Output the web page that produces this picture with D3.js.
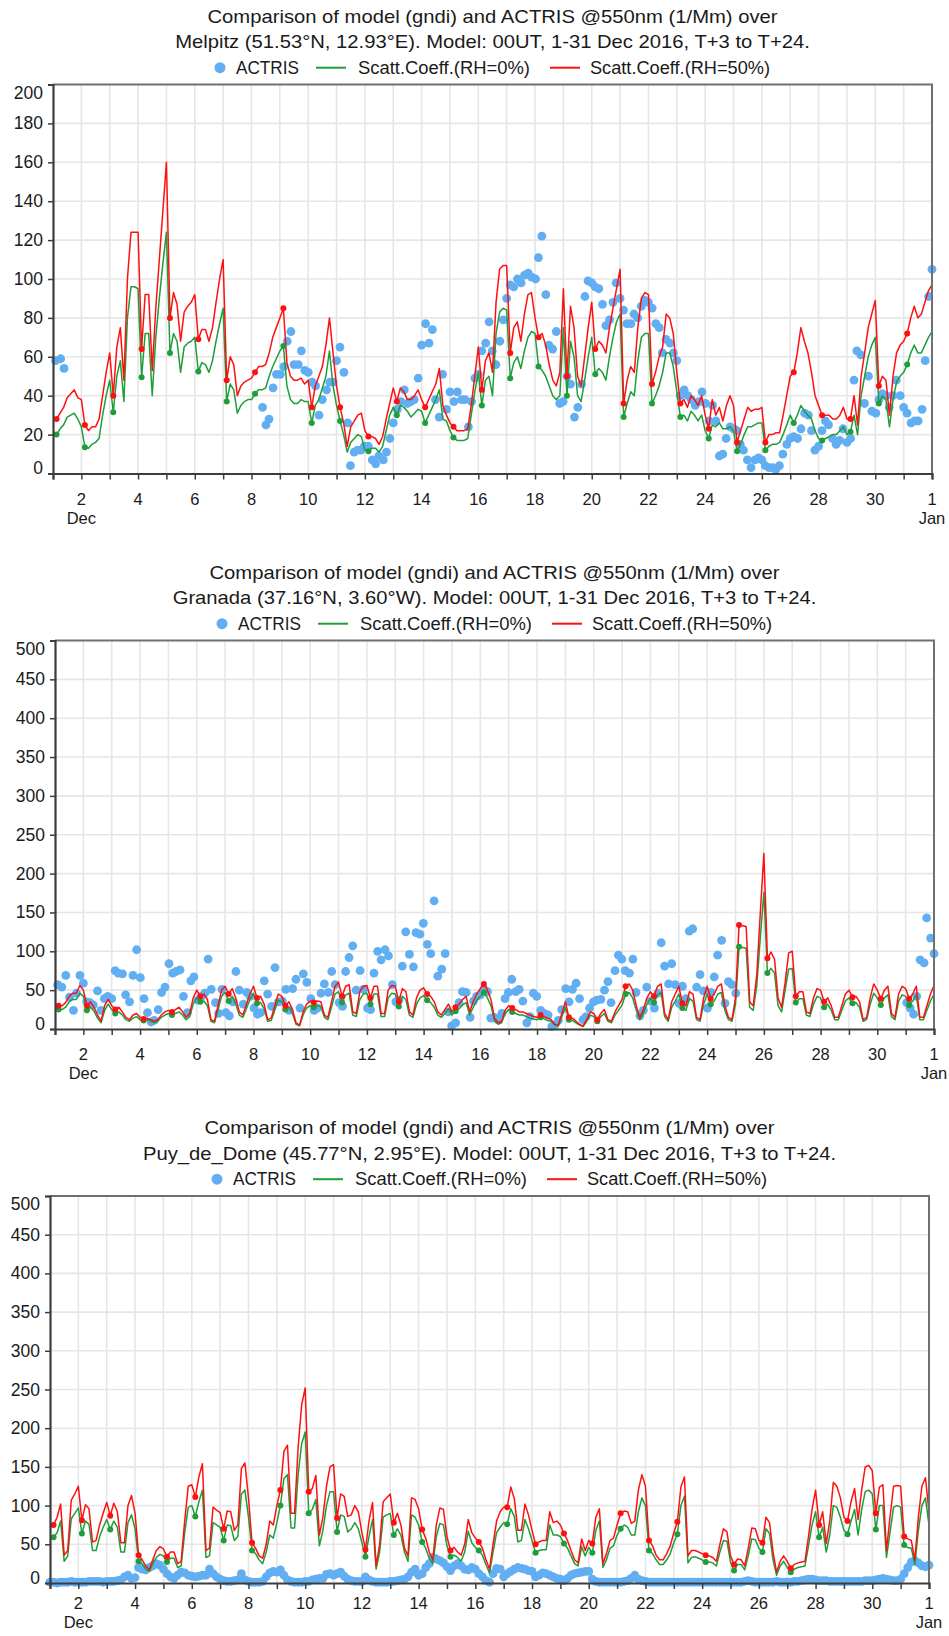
<!DOCTYPE html>
<html><head><meta charset="utf-8">
<script src="https://cdn.jsdelivr.net/npm/d3@7"></script>
<style>
body{margin:0;background:#fff}
svg{display:block}
text{font-family:"Liberation Sans",Arial,Helvetica,sans-serif;fill:#1a1a1a}
</style>
</head><body>
<svg id="c" width="949" height="1636"></svg>
<script>
// ---------------- DATA ----------------
const titleLine1 = "Comparison of model (gndi) and ACTRIS @550nm (1/Mm) over";
const stationTitles = [
  "Melpitz (51.53°N, 12.93°E). Model: 00UT, 1-31 Dec 2016, T+3 to T+24.",
  "Granada (37.16°N, 3.60°W). Model: 00UT, 1-31 Dec 2016, T+3 to T+24.",
  "Puy_de_Dome (45.77°N, 2.95°E). Model: 00UT, 1-31 Dec 2016, T+3 to T+24."
];
const legendLabels = ["ACTRIS", "Scatt.Coeff.(RH=0%)", "Scatt.Coeff.(RH=50%)"];
const xTickDays = [2,4,6,8,10,12,14,16,18,20,22,24,26,28,30,32];
const xTickLabels = ["2","4","6","8","10","12","14","16","18","20","22","24","26","28","30","1"];
const monthLabels = [[2,"Dec"],[32,"Jan"]];
const yTicksMel = [0,20,40,60,80,100,120,140,160,180,200];
const yTicks500 = [0,50,100,150,200,250,300,350,400,450,500];

// model values: 8 steps per day (T+3 ... T+24), Dec 1 .. Dec 31
const melRed = [
28,31,34,39,41,43,39,38, 25,22,24,24,28,40,52,62, 40,65,75,48,100,124,124,124, 64,92,92,53,85,110,135,160,
80,93,87,68,83,86,88,92, 69,74,74,68,75,88,100,110, 48,60,56,40,45,47,48,49, 52,55,55,56,62,70,75,80,
85,57,50,48,48,49,46,48, 34,45,50,55,66,80,62,45, 34,26,14,24,27,30,31,22, 19,19,18,15,19,28,36,44,
37,44,42,38,38,40,43,38, 34,38,42,46,54,35,30,26, 24,22,22,22,23,35,50,65, 43,58,62,52,88,105,107,107,
62,75,78,68,82,92,93,80, 70,72,66,56,48,45,52,95, 50,86,75,50,45,60,75,88, 64,68,66,62,75,85,95,105,
36,48,55,52,75,90,93,92, 46,52,60,65,82,80,72,52, 36,38,34,40,38,35,40,30, 23,38,30,34,27,35,40,35,
16,22,28,34,32,33,33,34, 16,20,20,21,21,30,40,50, 52,62,75,68,62,52,40,35, 30,30,30,28,28,30,34,28,
28,40,25,50,62,75,82,89, 45,50,48,30,50,62,66,68, 72,80,86,80,82,88,94,97];
const melGreen = [
20,23,25,29,30,31,28,24, 13.5,13,15,16,18,30,40,48, 31.5,50,58,37,80,96,96,95, 49.5,72,72,40,70,90,108,124,
62,72,68,52,65,67,68,70, 52.5,57,56,52,58,68,77,85, 37,46,43,31,35,37,38,38, 41,43,43,44,50,55,59,63,
65.5,45,38,36,36,38,37,37, 26,35,38,44,50,63,45,35, 27,20,11,16,18,20,19,12, 11.5,13,13,11,14,22,30,34,
30,35,34,32,29,31,33,32, 26,30,34,38,43,28,27,22, 18.5,17,17,17,18,30,42,52, 35,48,50,40,72,83,85,84,
49,57,60,54,63,70,73,72, 55,53,50,45,40,38,40,75, 40,68,60,40,37,48,60,70, 51,54,52,48,60,70,78,82,
29,36,42,40,58,70,72,72, 36,40,45,52,62,62,55,42, 29,30,27,32,30,27,30,22, 18,25,24,26,23,23,24,22,
11.5,15,20,24,24,25,26,26, 12,14,15,15,16,20,25,30, 26,30,35,32,30,28,22,18, 17,18,19,20,20,22,24,20,
21.5,30,20,40,50,60,66,70, 36,40,38,24,38,47,50,52, 56,62,66,62,62,66,70,73];
const melObs = [
[1.09,58],[1.27,59],[1.39,54],
[8.39,34],[8.51,25],[8.62,28],[8.76,44],[8.88,51],[9.02,51],[9.14,55],[9.26,68],[9.39,73],[9.5,56],[9.65,56],[9.76,63],[9.88,53],[10.0,52],[10.14,47],[10.26,45],[10.38,30],[10.5,38],[10.65,43],[10.76,47],[10.88,47],[11.0,58],[11.12,65],[11.26,52],[11.39,26],[11.49,4],[11.62,11],[11.74,12],[11.86,12],[11.98,14],[12.12,14],[12.26,7],[12.38,5],[12.49,9],[12.65,7],[12.76,11],[12.88,18],[13.0,26],[13.14,33],[13.27,37],[13.39,43],[13.5,36],[13.62,37],[13.74,38],[13.88,49],[14.0,66],[14.14,77],[14.26,67],[14.38,74],[14.49,38],[14.62,29],[14.74,51],[14.88,33],[15.0,42],[15.14,37],[15.26,42],[15.41,38],[15.53,38],[15.65,24],[15.76,37],[15.88,49],[16.0,51],[16.12,63],[16.26,67],[16.38,78],[16.49,63],[16.62,56],[16.76,68],[16.88,79],[17.0,90],[17.12,97],[17.25,96],[17.38,100],[17.51,98],[17.63,102],[17.76,103],[17.88,101],[18.02,100],[18.12,111],[18.24,122],[18.38,92],[18.49,66],[18.62,64],[18.75,73],[18.87,36],[18.99,37],[19.13,50],[19.25,46],[19.39,29],[19.51,34],[19.64,46],[19.76,91],[19.87,99],[20.0,98],[20.12,96],[20.25,95],[20.38,87],[20.5,76],[20.63,79],[20.75,88],[20.86,98],[21.0,90],[21.12,84],[21.24,77],[21.38,77],[21.49,82],[21.62,80],[21.75,86],[21.87,89],[22.0,88],[22.13,85],[22.26,77],[22.38,75],[22.49,62],[22.62,69],[22.76,67],[22.88,62],[23.0,58],[23.12,40],[23.26,43],[23.39,40],[23.51,38],[23.65,35],[23.78,37],[23.89,42],[24.01,36],[24.14,27],[24.26,35],[24.38,27],[24.5,9],[24.62,10],[24.74,18],[24.88,24],[25.0,23],[25.12,22],[25.24,15],[25.35,12],[25.49,7],[25.62,3],[25.76,7],[25.88,8],[26.0,7],[26.12,4],[26.25,3],[26.38,3],[26.49,2],[26.62,4],[26.74,10],[26.88,15],[27.0,18],[27.12,19],[27.26,18],[27.38,23],[27.51,31],[27.64,30],[27.75,22],[27.87,12],[28.0,14],[28.12,22],[28.24,27],[28.35,25],[28.49,18],[28.62,15],[28.74,17],[28.86,23],[29.0,16],[29.13,18],[29.25,48],[29.35,63],[29.49,61],[29.62,36],[29.76,50],[29.88,32],[30.02,31],[30.13,38],[30.25,41],[30.38,40],[30.49,34],[30.62,40],[30.74,48],[30.88,40],[31.0,34],[31.12,31],[31.26,26],[31.39,27],[31.51,27],[31.65,33],[31.76,58],[31.88,91],[32.0,105]];

const graRed = [
30,30,34,42,46,46,56,50, 30,35,28,18,10,30,38,30, 25,28,22,15,12,18,20,15, 13,14,12,10,12,18,22,24,
22,25,28,22,15,20,40,50, 42,45,38,12,10,30,50,55, 45,52,40,22,18,32,45,55, 40,42,32,12,14,30,45,42,
30,35,25,8,5,22,32,36, 34,36,35,18,15,35,55,60, 42,55,57,22,20,48,55,56, 40,55,55,20,20,50,56,55,
35,52,48,22,18,40,50,53, 45,42,35,22,18,25,32,22, 28,32,38,42,22,35,45,52, 58,50,38,14,8,10,24,30,
27,25,22,22,20,18,16,15, 18,16,14,12,6,5,20,35, 15,14,10,6,4,12,22,20, 12,20,25,12,10,22,30,38,
55,58,50,30,15,25,40,48, 42,55,58,20,12,35,45,55, 33,30,48,45,15,12,40,55, 39,45,55,58,30,15,12,40,
134,133,132,35,30,70,150,226, 91,99,90,40,28,60,98,100, 42,48,48,22,20,40,52,50, 35,40,30,15,15,30,45,50,
41,42,35,12,15,40,58,50, 39,50,55,20,15,45,55,52, 39,45,55,15,15,30,45,56];
const graGreen = [
25,25,28,35,38,38,46,42, 24,28,23,14,8,24,32,25, 20,22,18,12,10,14,16,12, 11,12,10,8,10,15,18,20,
18,20,22,18,12,16,32,40, 35,36,30,10,8,25,42,47, 36,42,32,18,15,26,38,46, 33,34,26,10,11,24,37,35,
25,28,20,6,4,18,27,30, 28,30,29,15,12,28,45,48, 34,44,46,18,16,38,45,46, 32,45,45,16,16,40,46,45,
29,42,38,18,15,32,40,43, 37,34,28,18,15,20,26,18, 23,26,31,34,18,28,37,42, 47,40,30,11,6,8,20,25,
22,20,18,18,16,14,13,12, 15,13,11,10,5,4,16,28, 12,11,8,5,3,10,18,16, 10,16,20,10,8,18,24,31,
45,47,40,24,12,20,32,39, 34,44,47,16,10,28,36,45, 27,24,39,36,12,10,32,45, 32,36,45,47,24,12,10,32,
106,105,104,28,24,56,118,176, 72,78,72,30,22,50,77,78, 34,39,39,18,16,32,42,40, 28,32,24,12,12,24,36,40,
33,34,28,10,12,32,46,40, 31,40,44,16,12,36,44,42, 31,36,44,12,12,24,36,45];
const graObs = [
[1.09,57],[1.24,54],[1.38,69],[1.51,41],[1.65,24],[1.76,46],[1.88,69],[2.0,59],[2.12,35],[2.23,34],[2.35,31],[2.5,49],[2.62,24],[2.74,39],[2.86,42],[3.0,39],[3.12,75],[3.23,72],[3.38,71],[3.49,44],[3.63,35],[3.75,69],[3.88,102],[4.01,66],[4.14,39],[4.26,21],[4.39,9],[4.5,11],[4.64,25],[4.76,47],[4.88,54],[5.02,84],[5.15,72],[5.27,74],[5.41,76],[5.53,42],[5.67,21],[5.79,62],[5.9,67],[6.04,37],[6.16,42],[6.28,46],[6.4,90],[6.51,51],[6.66,34],[6.77,20],[6.89,51],[7.03,21],[7.15,17],[7.27,35],[7.38,74],[7.5,50],[7.64,32],[7.76,47],[7.88,42],[8.02,27],[8.14,19],[8.25,21],[8.38,62],[8.5,45],[8.64,29],[8.76,79],[8.88,35],[9.02,36],[9.14,51],[9.25,24],[9.38,52],[9.5,64],[9.64,27],[9.76,71],[9.88,60],[10.02,39],[10.14,24],[10.25,27],[10.38,46],[10.5,58],[10.64,47],[10.76,74],[10.88,57],[11.02,34],[11.14,29],[11.25,74],[11.37,92],[11.5,107],[11.62,50],[11.76,75],[11.88,51],[12.02,27],[12.13,25],[12.25,72],[12.38,100],[12.5,89],[12.64,102],[12.76,94],[12.9,57],[13.02,35],[13.13,37],[13.25,81],[13.37,125],[13.5,96],[13.64,80],[13.73,124],[13.87,122],[13.99,136],[14.13,109],[14.25,97],[14.37,165],[14.5,68],[14.64,77],[14.76,97],[14.87,22],[14.99,4],[15.13,8],[15.25,34],[15.37,48],[15.5,47],[15.64,15],[15.76,36],[15.87,42],
[16.0,44],[16.13,51],[16.25,48],[16.37,14],[16.49,15],[16.61,12],[16.76,20],[16.87,39],[16.99,47],[17.11,64],[17.25,48],[17.37,51],[17.5,36],[17.64,8],[17.75,16],[17.87,46],[17.99,42],[18.13,24],[18.25,20],[18.39,18],[18.52,3],[18.63,5],[18.75,11],[18.87,25],[19.01,52],[19.13,35],[19.25,51],[19.38,59],[19.5,39],[19.62,12],[19.73,16],[19.85,27],[19.99,35],[20.11,37],[20.25,38],[20.38,50],[20.5,61],[20.61,34],[20.75,75],[20.87,95],[20.99,90],[21.11,75],[21.26,72],[21.38,90],[21.49,47],[21.63,17],[21.75,24],[21.87,54],[22.01,36],[22.14,27],[22.26,46],[22.38,111],[22.5,81],[22.64,58],[22.75,84],[22.87,57],[23.01,33],[23.13,55],[23.25,39],[23.37,126],[23.49,129],[23.63,54],[23.75,70],[23.87,49],[24.01,27],[24.13,47],[24.25,67],[24.37,95],[24.51,114],[24.63,33],[24.75,61],[24.87,57],[25.01,46],
[31.04,34],[31.16,27],[31.28,19],[31.39,42],[31.51,89],[31.65,85],[31.74,143],[31.88,117],[32.0,97]];

const puyRed = [
75,85,102,36,42,107,115,125, 81,101,96,53,55,75,90,104, 87,103,92,52,52,100,113,90, 36,30,22,17,30,42,47,44,
34,40,40,25,28,80,125,127, 111,137,154,42,45,98,94,91, 70,93,92,68,75,148,155,110, 52,45,35,32,50,80,75,100,
120,170,178,90,90,175,230,252, 118,122,139,62,85,125,150,153, 84,115,112,86,88,100,92,65, 43,80,104,22,50,105,110,115,
78,90,75,45,35,110,108,96, 69,58,40,30,75,97,95,60, 42,46,40,36,50,82,65,58, 53,45,30,18,50,80,92,98,
98,124,109,68,68,102,88,68, 50,53,55,55,92,78,80,75, 64,55,42,30,26,57,42,55, 51,85,96,25,38,55,58,75,
90,93,92,77,80,120,140,125, 55,48,36,30,30,38,48,65, 79,124,137,35,42,42,40,38, 36,35,33,28,50,70,66,35,
24,31,30,22,45,71,70,55, 52,85,78,40,14,28,35,28, 19,24,26,27,28,60,95,120, 75,92,51,80,130,125,110,85,
80,105,122,82,120,150,152,145, 90,124,127,42,85,125,126,125, 60,57,55,30,85,125,136,92];
const puyGreen = [
59,65,80,28,35,83,90,97, 64,80,76,42,42,60,72,82, 69,80,72,40,40,78,88,70, 28,25,18,15,25,33,37,35,
27,32,32,20,22,65,98,100, 86,105,120,33,35,78,75,72, 55,75,74,55,60,115,120,85, 42,38,30,25,40,62,58,78,
100,135,140,71,71,140,180,195, 90,95,108,48,68,100,118,118, 66,88,86,66,70,78,70,52, 34,60,82,18,40,85,88,90,
62,70,62,40,28,88,85,75, 53,45,32,25,60,77,75,48, 34,36,33,28,40,67,52,46, 42,36,24,13,40,65,72,78,
76,96,86,53,55,82,70,55, 39,42,43,43,75,62,62,60, 51,45,35,25,22,47,35,46, 39,68,80,20,30,45,48,62,
70,75,72,62,62,92,110,100, 42,38,30,24,24,30,38,52, 63,100,112,26,33,34,32,30, 27,27,26,22,40,55,54,27,
16,24,24,17,35,57,56,45, 40,70,64,30,10,22,28,20, 14,18,20,21,22,48,75,92, 59,72,40,62,100,98,85,68,
63,80,95,62,95,118,120,115, 69,100,100,33,65,98,100,98, 49,46,45,24,68,100,110,75];
// ACTRIS at Puy de Dome, 3-hourly from Dec 1 00UT to Jan 1 00UT
const puyObsVal = [
1,1,0,1,1,1,2,1, 1,1,1,2,2,2,2,1, 2,2,2,3,4,8,10,6, 7,20,18,17,20,22,25,23,
18,12,8,6,10,14,13,10, 9,8,9,10,10,18,12,8, 5,3,2,2,3,4,12,4, 2,1,1,1,2,8,13,15,
14,17,10,4,2,1,1,1, 2,2,4,5,6,6,11,12, 10,12,14,9,5,3,2,2, 2,8,4,2,1,1,1,1,
2,2,3,4,5,8,14,18, 10,12,20,25,33,31,29,26, 21,16,22,25,22,18,17,20, 18,12,8,3,1,12,19,18,
8,12,15,18,20,19,18,16, 15,8,10,13,12,10,8,6, 5,3,6,10,12,13,14,15, 15,5,2,1,1,1,1,1,
1,1,2,3,6,10,5,3, 2,1,1,1,1,1,1,1, 1,1,1,1,1,1,1,1, 1,1,1,1,1,1,1,1,
1,1,1,1,2,3,2,1, 1,1,1,1,1,2,1,1, 1,1,2,2,3,4,5,5, 4,3,3,3,2,2,2,2,
2,2,2,2,2,2,3,3, 3,4,5,6,5,4,3,3, 5,12,20,27,29,26,22,21, 23];

// ---------------- DRAWING ----------------
const svg = d3.select("#c");
const C = {blue:"#62aef2", green:"#1f9d3a", red:"#ff1010", grid:"#e6e6e6", axis:"#3c3c3c", frame:"#707070"};
const modelTime = (i) => 1 + Math.floor(i/8) + ((i%8)+1)/8;
const toSeries = arr => arr.map((v,i)=>[modelTime(i), v]);
const puyObs = puyObsVal.map((v,i)=>[1 + i/8, v]);

const panels = [
  {title: stationTitles[0], box:{l:53, r:932, t:84.5, b:473.5}, yMax:200, yTicks:yTicksMel, red:melRed, green:melGreen, obs:melObs},
  {title: stationTitles[1], box:{l:55, r:934, t:640.5, b:1029}, yMax:500, yTicks:yTicks500, red:graRed, green:graGreen, obs:graObs},
  {title: stationTitles[2], box:{l:50, r:929, t:1196, b:1583}, yMax:500, yTicks:yTicks500, red:puyRed, green:puyGreen, obs:puyObs}
];

let stretch = null;
panels.forEach(p => {
  const {l,r,t,b} = p.box;
  const x = d3.scaleLinear().domain([1,32]).range([l,r]);
  const y = d3.scaleLinear().domain([0,p.yMax]).range([b,t]);
  const g = svg.append("g");
  const cx = (l+r)/2;

  // titles
  const t1 = g.append("text").attr("x",cx).attr("y",t-68.5).attr("text-anchor","middle")
    .attr("dominant-baseline","central").attr("font-size",19).text(titleLine1);
  const t2 = g.append("text").attr("x",cx).attr("y",t-42.8).attr("text-anchor","middle")
    .attr("dominant-baseline","central").attr("font-size",19).text(p.title);
  if (stretch === null) stretch = 570 / t1.node().getComputedTextLength();
  [t1,t2].forEach(tt => {
    const w = tt.node().getComputedTextLength();
    tt.attr("textLength", w*stretch).attr("lengthAdjust","spacingAndGlyphs");
  });

  // legend
  const ly = t - 16.8;
  g.append("circle").attr("cx",cx-272.5).attr("cy",ly).attr("r",5.5).attr("fill",C.blue);
  g.append("text").attr("x",cx-256.5).attr("y",ly).attr("dominant-baseline","central").attr("font-size",17.5)
    .attr("textLength",63).attr("lengthAdjust","spacingAndGlyphs").text(legendLabels[0]);
  g.append("line").attr("x1",cx-176.5).attr("x2",cx-146.5).attr("y1",ly).attr("y2",ly).attr("stroke",C.green).attr("stroke-width",2);
  g.append("text").attr("x",cx-134.5).attr("y",ly).attr("dominant-baseline","central").attr("font-size",17.5)
    .attr("textLength",172).attr("lengthAdjust","spacingAndGlyphs").text(legendLabels[1]);
  g.append("line").attr("x1",cx+57.5).attr("x2",cx+87.5).attr("y1",ly).attr("y2",ly).attr("stroke",C.red).attr("stroke-width",2);
  g.append("text").attr("x",cx+97.5).attr("y",ly).attr("dominant-baseline","central").attr("font-size",17.5)
    .attr("textLength",180).attr("lengthAdjust","spacingAndGlyphs").text(legendLabels[2]);

  // grid
  g.selectAll(null).data(d3.range(2,32)).join("line")
    .attr("x1",d=>x(d)).attr("x2",d=>x(d)).attr("y1",t).attr("y2",b)
    .attr("stroke",C.grid).attr("stroke-width",1.6);
  g.selectAll(null).data(p.yTicks.slice(1,-1)).join("line")
    .attr("x1",l).attr("x2",r).attr("y1",d=>y(d)).attr("y2",d=>y(d))
    .attr("stroke",C.grid).attr("stroke-width",1.6);

  // observations
  g.selectAll(null).data(p.obs).join("circle")
    .attr("cx",d=>x(d[0])).attr("cy",d=>y(d[1])).attr("r",4.4).attr("fill",C.blue);

  // model lines
  const line = d3.line().x(d=>x(d[0])).y(d=>y(d[1]));
  const gs = toSeries(p.green), rs = toSeries(p.red);
  g.append("path").attr("d",line(gs)).attr("fill","none").attr("stroke",C.green).attr("stroke-width",1.5).attr("stroke-linejoin","round");
  g.append("path").attr("d",line(rs)).attr("fill","none").attr("stroke",C.red).attr("stroke-width",1.5).attr("stroke-linejoin","round");
  g.selectAll(null).data(gs.filter((d,i)=>i%8===0)).join("circle")
    .attr("cx",d=>x(d[0])).attr("cy",d=>y(d[1])).attr("r",3).attr("fill",C.green);
  g.selectAll(null).data(rs.filter((d,i)=>i%8===0)).join("circle")
    .attr("cx",d=>x(d[0])).attr("cy",d=>y(d[1])).attr("r",3).attr("fill",C.red);

  // frame (top/right)
  g.append("path").attr("d",`M${l},${t}H${r}V${b}`).attr("fill","none").attr("stroke",C.frame).attr("stroke-width",2);

  // axes
  const xa = g.append("g").attr("transform",`translate(0,${b})`)
    .call(d3.axisBottom(x).tickValues(d3.range(1,33)).tickSize(6).tickFormat(""));
  const ya = g.append("g").attr("transform",`translate(${l},0)`)
    .call(d3.axisLeft(y).tickValues(p.yTicks).tickSize(5).tickFormat(""));
  [xa,ya].forEach(a => {
    a.select(".domain").attr("stroke",C.axis).attr("stroke-width",2.2);
    a.selectAll(".tick line").attr("stroke",C.axis).attr("stroke-width",1.5);
  });

  // tick labels
  const numY = Math.min(b+25, 1603), monY = Math.min(b+44, 1622);
  g.selectAll(null).data(xTickDays).join("text")
    .attr("x",d=>x(d)).attr("y",numY).attr("text-anchor","middle").attr("dominant-baseline","central")
    .attr("font-size",16.5).text((d,i)=>xTickLabels[i]);
  g.selectAll(null).data(monthLabels).join("text")
    .attr("x",d=>x(d[0])).attr("y",monY).attr("text-anchor","middle").attr("dominant-baseline","central")
    .attr("font-size",16.5).text(d=>d[1]);
  g.selectAll(null).data(p.yTicks).join("text")
    .attr("x",l-10).attr("y",d=>Math.min(b-5.5, Math.max(t+8, y(d)))).attr("text-anchor","end")
    .attr("dominant-baseline","central").attr("font-size",17.5).text(d=>d);
});
</script>
</body></html>
